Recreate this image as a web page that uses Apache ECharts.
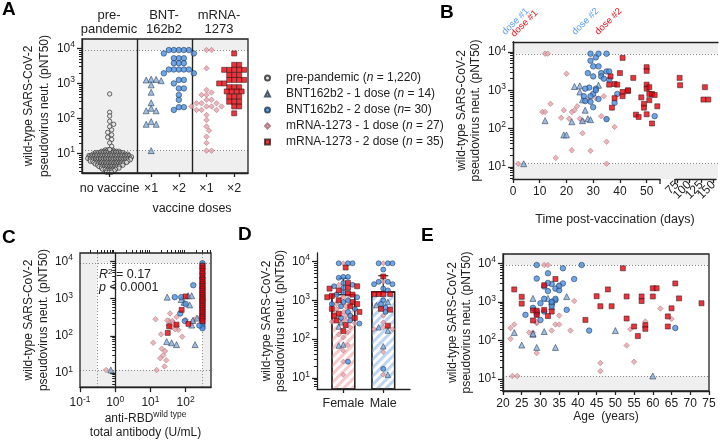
<!DOCTYPE html>
<html><head><meta charset="utf-8">
<script src="https://cdn.jsdelivr.net/npm/echarts@6/dist/echarts.min.js"></script>
<style>html,body{margin:0;padding:0;background:#fff}#c{width:720px;height:441px}</style>
</head><body><div id="c"></div>
<script>
// ================= DATA =================
const LOD = 12, ULOD = 9000;              // assay limits (pNT50)
const yTickExps = [1, 2, 3, 4];           // 10^1 .. 10^4

// ---- Panel A ----
const aHeaders = ['pre-\npandemic', 'BNT-\n162b2', 'mRNA-\n1273'];
const aCategories = ['no vaccine', '×1', '×2', '×1', '×2'];
const aXTitle = 'vaccine doses';
// pre-pandemic swarm body: [pNT50, points in swarm row]
const preRows = [[12.6,4],[11.5,8],[10.5,12],[9.5,15],[8.7,17],[7.9,18],[7.2,18],[6.6,17],[6.0,16],[5.5,14],[5.0,12],[4.6,11],[4.2,9],[3.8,8],[3.5,6],[3.2,4],[2.9,3]];
const preOutliers = [500,150,117,83,68,58,47,40,34,29,25,20,16,13];
const aBnt1 = [1200,1250,1300,1320,910,560,280,195,165,165,81,68,68,12];
const aBnt2 = [9000,9000,9000,9000,9000,7200,7200,5250,5250,5250,3800,3800,3800,2500,2500,2500,2500,2500,1950,1950,1260,1260,1000,720,720,470,340,210,210,175];
const aMrna1 = [9000,9000,2700,650,550,470,470,340,340,270,270,270,220,220,220,220,175,175,175,125,90,59,45,30,20,12,12];
const aMrna2 = [7200,3400,3400,2450,2450,2450,2450,2450,1740,1740,1740,1260,1260,1260,1260,1000,1000,1000,1000,780,780,780,590,590,590,590,420,420,420,300,300,300,220,220,140];

// ---- Panel B: [days post-vaccination, pNT50] ----
const bTicksMain = [0,10,20,30,40,50];
const bTicksLate = [75,100,125,150];
const bXTitle = 'Time post-vaccination (days)';
const bBnt1 = [[4,12],[12,160],[19,68],[20,68],[22,150],[23,1250],[25,1300],[25,900],[26,560],[27,300],[28,180],[32,1350],[26,160],[29,170]];
const bBnt2 = [[29,9000],[31,7200],[32,9000],[35,9000],[29,5900],[30,4200],[32,4200],[28,2800],[30,2300],[33,2800],[33,2300],[35,3100],[36,3100],[36,1900],[28.5,1170],[31,1100],[30,800],[26.5,700],[29,700],[32,590],[39,800],[38,470],[27,520],[30,360],[53,210],[35,175],[31,1000],[27,1100],[29,500],[34,2000]];
const bMrna1 = [[2,12],[12,9000],[13,9000],[20,2700],[14,440],[11,270],[12,270],[19,300],[22,270],[23,300],[24,380],[18,190],[21,180],[25,180],[26,160],[28,560],[31,620],[34,700],[33,210],[35,180],[38,110],[26,75],[22,27],[16,17],[29,26],[35,45],[35,12]];
const bMrna2 = [[41,7000],[50,4000],[50,3200],[40,2800],[45,2100],[80,2100],[81,1350],[36.5,2300],[36,1400],[38,1450],[39,1400],[50,1400],[50,1100],[41,900],[43,950],[41,700],[51,800],[52,800],[48,650],[51,550],[38,620],[49,440],[49,350],[54,380],[37,350],[46,230],[47,200],[50,235],[52,135],[132,1200],[129,570],[139,570],[51,1200],[53,750],[43,1000]];
const bDoseMarks = [['dose #1','#5d9ff0'],['dose #1','#e8141e'],['dose #2','#5d9ff0'],['dose #2','#e8141e']];

// ---- Panel C: [anti-RBD U/mL, pNT50] ----
const cLimits = [0.3, 300];
const cTickExps = [-1, 0, 1, 2];
const cStats = ['0.17', '< 0.0001'];
const cBnt1 = [[0.75,12],[30,1100],[55,58],[185,58],[90,800],[118,1200],[148,1200],[148,195],[29,70],[130,680],[75,950],[160,260],[210,300],[40,65]];
const cBnt2 = [[300,9000],[300,8000],[300,6500],[300,4800],[300,3600],[300,2600],[300,2000],[300,1700],[300,1400],[300,1200],[300,1000],[300,900],[300,800],[300,700],[300,600],[300,500],[300,420],[300,350],[300,290],[300,240],[300,210],[300,180],[300,160],[49,1100],[75,1100],[165,2300],[100,720],[70,400],[95,250],[245,190]];
const cMrna1 = [[0.55,12],[15,12],[14,280],[12,65],[26,39],[19,25],[28,22],[25,15],[36,400],[34,250],[42,250],[55,320],[34,190],[40,170],[55,180],[80,95],[62,145],[175,275],[150,220],[21,45],[23,30],[45,220],[30,260],[50,150],[100,270],[250,300],[20,110]];
const cMrna2 = [[300,7600],[300,6600],[300,5600],[300,4800],[300,4000],[300,3500],[300,3200],[300,2800],[300,2500],[300,2200],[300,2000],[300,1800],[300,1600],[300,1400],[300,1250],[300,1100],[300,1000],[300,900],[300,800],[300,700],[300,630],[300,560],[300,500],[300,450],[300,400],[300,350],[300,320],[300,290],[300,250],[34,180],[55,200],[31,120],[77,500],[100,1150],[120,210]];

// ---- Panel D ----
const dCategories = ['Female', 'Male'];
const dMeans = [1450, 1700];
const dUpper = [3700, 4300];
const dFemBnt1 = [270,210,72,68];
const dFemBnt2 = [9000,9000,9000,4000,4000,3800,2800,2500,2300,2100,1600,1400,1200,1000,900,800,700,600,500,400,350,300,250,26];
const dFemMrna1 = [9000,2500,1200,800,700,600,500,400,300,280,250,200,150,130,110,70,50,26,12];
const dFemMrna2 = [7000,2800,2300,2100,2000,1800,1500,1400,1300,1200,1000,900,800,700,600,500,450,400,350,300,230,160];
const dMaleBnt1 = [900,750,200,165,65,12];
const dMaleBnt2 = [9000,9000,9000,6200,3000,3000,2600,2600,2000,1800,1000,800,650,500,17];
const dMaleMrna1 = [9000,3000,400,270,200,180,180,46,12];
const dMaleMrna2 = [4100,1450,1450,1450,1450,600,570,220];

// ---- Panel E: [age, pNT50] ----
const eXTitle = 'Age  (years)';
const eBnt1 = [[23,160],[25,76],[28,1230],[28,145],[29,66],[31,170],[32,1230],[33,760],[34,66],[37,1370],[50,180],[60,12],[28,150],[33,1000]];
const eBnt2 = [[29,9000],[41,9000],[36,7400],[32,5500],[29,4000],[39,3900],[31,2500],[33,2900],[34,2200],[35,2000],[32,1900],[36,3000],[34,1100],[33,950],[30,920],[37,620],[26,460],[29,480],[30,340],[33,780],[43,180],[66,210],[28,700],[34,1200],[33,1000],[31,1200],[35,2600],[31,560],[29,550],[32,3100]];
const eMrna1 = [[22,210],[23,260],[22,110],[22.5,12],[23.8,12],[27,160],[28,160],[29,47],[29,280],[31,9000],[32,9000],[33,180],[34,260],[35,260],[35,440],[35,2700],[38,180],[39,1050],[46,26],[46,16],[53,74],[54,195],[55,28],[58,310],[62,670],[65,360],[29,300]];
const eMrna2 = [[23,2100],[25,1350],[25,900],[28,600],[28,330],[29,590],[29,460],[31,2700],[31,620],[32,430],[33,560],[34,3900],[42,340],[45,1400],[46,770],[48,2100],[49,770],[52,7400],[53,1380],[53,370],[55,230],[56,130],[57,1380],[57,1050],[58,250],[58,200],[60,2250],[61,2250],[60,1380],[64,420],[64,230],[65,680],[66,3000],[67,1230],[73,920]];

const yTitle = 'wild-type SARS-CoV-2\npseudovirus neut. (pNT50)';
const legendLabels = {
  'pre-pandemic': 'pre-pandemic ({i|n} = 1,220)',
  'BNT162b2 - 1 dose': 'BNT162b2 - 1 dose ({i|n} = 14)',
  'BNT162b2 - 2 dose': 'BNT162b2 - 2 dose ({i|n}= 30)',
  'mRNA-1273 - 1 dose': 'mRNA-1273 - 1 dose ({i|n} = 27)',
  'mRNA-1273 - 2 dose': 'mRNA-1273 - 2 dose ({i|n} = 35)'
};

// ================= BUILD =================
const FONT = '"Liberation Sans", Arial, Helvetica, sans-serif';
const INK = '#222';
const L = v => Math.log10(v);
const NAMES = {pre:'pre-pandemic', bnt1:'BNT162b2 - 1 dose', bnt2:'BNT162b2 - 2 dose', mrna1:'mRNA-1273 - 1 dose', mrna2:'mRNA-1273 - 2 dose'};
const ST = {
  pre:  {symbol:'circle',   size:4.4, itemStyle:{color:'#e4e4e4', borderColor:'#262626', borderWidth:0.85}},
  bnt1: {symbol:'triangle', size:6,   itemStyle:{color:'#86aee0', borderColor:'#27384f', borderWidth:0.7}},
  bnt2: {symbol:'circle',   size:5.5, itemStyle:{color:'#4a90e2', borderColor:'#1d3451', borderWidth:0.7}},
  mrna1:{symbol:'diamond',  size:5.5, itemStyle:{color:'#e9a3aa', borderColor:'#9b6a70', borderWidth:0.6}},
  mrna2:{symbol:'rect',     size:5,   itemStyle:{color:'#e8000b', borderColor:'#3b1b1b', borderWidth:0.7}}
};
function sc(key, xi, yi, data, size) {
  return {type:'scatter', name:NAMES[key], xAxisIndex:xi, yAxisIndex:yi, symbol:ST[key].symbol,
    symbolSize:size || ST[key].size, itemStyle:ST[key].itemStyle, data, z:5, silent:true};
}
const xy = arr => arr.map(p => [p[0], L(p[1])]);
const xyLog = arr => arr.map(p => [L(p[0]), L(p[1])]);

function swarm(vals, cx, pxX, pxY, diam) {
  const idx = vals.map((v,i)=>i).sort((a,b)=>vals[b]-vals[a]);
  const placed = [], out = new Array(vals.length), step = diam/2;
  for (const i of idx) {
    const y = L(vals[i]) * pxY;
    let off = 0;
    for (let s = 0; s < 400; s++) {
      const o = s === 0 ? 0 : (s % 2 ? 1 : -1) * Math.ceil(s/2) * step;
      let ok = true;
      for (const p of placed) { const dx = p[0]-o, dy = p[1]-y; if (dx*dx+dy*dy < diam*diam*0.85) { ok = false; break; } }
      if (ok) { off = o; break; }
    }
    placed.push([off, y]);
    out[i] = [cx + off/pxX, L(vals[i])];
  }
  return out;
}
function swarmGroups(groups, cx, pxX, pxY, diam) {
  const all = [];
  Object.keys(groups).forEach(k => groups[k].forEach(v => all.push({k, v})));
  const pos = swarm(all.map(a=>a.v), cx, pxX, pxY, diam);
  const res = {};
  all.forEach((a,i) => { (res[a.k] = res[a.k] || []).push(pos[i]); });
  return res;
}
function minorTicks(min, max) {
  const t = [];
  for (let d = -2; d < 6; d++) for (let k = 2; k < 10; k++) { const v = d + Math.log10(k); if (v > min + 1e-6 && v < max - 1e-6) t.push(v); }
  return t;
}
const lineSt = {color: INK, width: 1.3};
const supRich = {s: {fontSize: 8.5, verticalAlign: 'bottom', padding: [0,0,7,0], fontFamily: FONT, color: INK}};
function logY(gi, min, max, nameGap, lh, opts) {
  return [
    Object.assign({type:'value', gridIndex:gi, min, max, position:'left', z:10,
      axisLine:{show:true, lineStyle:lineSt},
      axisTick:{show:true, customValues:yTickExps, length:5, lineStyle:lineSt},
      axisLabel:{customValues:yTickExps, formatter:v=>'10{s|'+Math.round(v)+'}', color:INK, fontSize:12, fontFamily:FONT, margin:7, rich:supRich},
      splitLine:{show:false},
      name:yTitle, nameLocation:'middle', nameRotate:90, nameGap,
      nameTextStyle:{fontSize:12, lineHeight:lh, color:INK, fontFamily:FONT}}, opts || {}),
    {type:'value', gridIndex:gi, min, max, position:'left', z:10,
      axisLine:{show:false}, axisTick:{show:true, customValues:minorTicks(min,max), length:3, lineStyle:{color:INK, width:1}},
      axisLabel:{show:false}, splitLine:{show:false}}
  ];
}
function bg(xi, yi, areas, dotted, solid) {
  const s = {type:'scatter', xAxisIndex:xi, yAxisIndex:yi, data:[], silent:true, z:1,
    markArea:{silent:true, itemStyle:{color:'#efefef'}, data:areas}};
  const lines = [];
  dotted.forEach(d => lines.push(Object.assign({lineStyle:{type:[1,2], color:'#888', width:1}}, d)));
  (solid||[]).forEach(d => lines.push(Object.assign({lineStyle:{type:'solid', color:INK, width:1.4}}, d)));
  s.markLine = {silent:true, symbol:['none','none'], label:{show:false}, animation:false, data:lines};
  return s;
}

const A = {y:[0.44,4.27], pxX:55.3, pxY:35};
const B = {y:[0.68,4.26]};
const C = {x:[-1,2.72], y:[0.62,4.23]};
const D = {x:[0.34,2.67], y:[0.71,4.22], pxX:39.9, pxY:38.7};
const E = {y:[0.69,4.24]};
const lod = L(LOD), ulod = L(ULOD);

// ---- A layout ----
const aCenters = [0.5, 1.25, 1.75, 2.25, 2.75];
const preData = [];
preRows.forEach((r, ri) => {
  const n = r[1];
  for (let j = 0; j < n; j++) preData.push([aCenters[0] + ((j-(n-1)/2)*2.5 + (ri%2?0.6:-0.6))/A.pxX, L(r[0])]);
});
swarm(preOutliers, aCenters[0], A.pxX, A.pxY, 4).forEach(p => preData.push(p));

// ---- D layout ----
const dFem = swarmGroups({mrna1:dFemMrna1, bnt1:dFemBnt1, bnt2:dFemBnt2, mrna2:dFemMrna2}, 1, D.pxX, D.pxY, 4.6);
const dMale = swarmGroups({mrna1:dMaleMrna1, bnt1:dMaleBnt1, bnt2:dMaleBnt2, mrna2:dMaleMrna2}, 2, D.pxX, D.pxY, 4.6);

const gridBox = {show:true, borderColor:INK, borderWidth:1.3, backgroundColor:'transparent', z:10};
const hidden = {axisLine:{show:false}, axisTick:{show:false}, axisLabel:{show:false}, splitLine:{show:false}};
// late-time labels split over two axes so the rotated labels are not hidden as overlapping
const lateLabelAxis = (vals, showLine) => ({type:'value', gridIndex:2, min:70.5, max:155, z:10, position:'bottom', offset:0,
  axisLine:{show:showLine, lineStyle:lineSt},
  axisTick:{show:showLine, customValues:bTicksLate, length:4, lineStyle:lineSt},
  axisLabel:{customValues:vals, color:INK, fontSize:12, margin:4, rotate:45, showMinLabel:true, showMaxLabel:true}, splitLine:{show:false}});

const option = {
  animation:false, backgroundColor:'#fff', textStyle:{fontFamily:FONT},
  grid:[
    Object.assign({left:82, top:39, width:166, height:134}, gridBox),   // 0 A
    {left:513, top:42, width:147, height:137},                          // 1 B main
    {left:675, top:42, width:43, height:137},                           // 2 B late
    {left:513, top:42, width:205, height:137},                          // 3 B frame
    Object.assign({left:80, top:253, width:131, height:137}, gridBox),  // 4 C
    {left:317, top:253, width:93, height:136},                          // 5 D
    Object.assign({left:503, top:254, width:206, height:137}, gridBox)  // 6 E
  ],
  xAxis:[
    {type:'value', gridIndex:0, min:0, max:3, z:10, axisLine:{show:true, lineStyle:lineSt},
     axisTick:{customValues:aCenters, length:4, lineStyle:lineSt},
     axisLabel:{customValues:aCenters, formatter:v=>aCategories[aCenters.indexOf(v)], color:INK, fontSize:12.5, margin:9}, splitLine:{show:false}},
    {type:'value', gridIndex:1, min:0, max:55, z:10, axisLine:{show:true, lineStyle:lineSt},
     axisTick:{customValues:bTicksMain, length:4, lineStyle:lineSt},
     axisLabel:{customValues:bTicksMain, color:INK, fontSize:12, margin:7, showMinLabel:true}, splitLine:{show:false}},
    lateLabelAxis([bTicksLate[0], bTicksLate[2]], true),
    Object.assign({type:'value', gridIndex:3, min:0, max:1, position:'top', z:10}, hidden, {axisLine:{show:true, lineStyle:lineSt}}),
    {type:'value', gridIndex:4, min:C.x[0], max:C.x[1], z:10, axisLine:{show:true, lineStyle:lineSt},
     axisTick:{customValues:cTickExps, length:5, lineStyle:lineSt},
     axisLabel:{customValues:cTickExps, formatter:v=>'10{s|'+Math.round(v)+'}', color:INK, fontSize:12, margin:8, rich:supRich, showMinLabel:true},
     splitLine:{show:false},
     name:'anti-RBD{s|wild type}\ntotal antibody (U/mL)', nameLocation:'middle', nameGap:20,
     nameTextStyle:{fontSize:12, lineHeight:14, color:INK, rich:{s:{fontSize:8.5, verticalAlign:'bottom', padding:[0,0,7,0], color:INK}}}},
    {type:'value', gridIndex:4, min:C.x[0], max:C.x[1], z:10, axisLine:{show:false},
     axisTick:{customValues:minorTicks(C.x[0], C.x[1]), length:3, lineStyle:{color:INK, width:1}}, axisLabel:{show:false}, splitLine:{show:false}},
    {type:'value', gridIndex:5, min:D.x[0], max:D.x[1], z:10, axisLine:{show:true, lineStyle:lineSt},
     axisTick:{customValues:[1,2], length:4, lineStyle:lineSt},
     axisLabel:{customValues:[1,2], formatter:v=>dCategories[Math.round(v)-1], color:INK, fontSize:12.5, margin:8}, splitLine:{show:false}},
    {type:'value', gridIndex:6, min:20, max:75, interval:5, z:10, axisLine:{show:true, lineStyle:lineSt},
     axisTick:{length:4, lineStyle:lineSt}, axisLabel:{color:INK, fontSize:12, margin:7}, splitLine:{show:false},
     name:eXTitle, nameLocation:'middle', nameGap:20, nameTextStyle:{fontSize:12, color:INK}},
    lateLabelAxis([bTicksLate[1], bTicksLate[3]], false)
  ],
  yAxis:[].concat(
    logY(0, A.y[0], A.y[1], 27, 16),
    logY(1, B.y[0], B.y[1], 30, 14),
    [Object.assign({type:'value', gridIndex:2, min:B.y[0], max:B.y[1]}, hidden),
     Object.assign({type:'value', gridIndex:3, min:B.y[0], max:B.y[1], position:'right', z:10}, hidden, {axisLine:{show:true, lineStyle:lineSt}})],
    logY(4, C.y[0], C.y[1], 25, 15),
    logY(5, D.y[0], D.y[1], 23, 14),
    logY(6, E.y[0], E.y[1], 28, 14)
  ),
  legend:{
    data:[NAMES.pre, NAMES.bnt1, NAMES.bnt2, NAMES.mrna1, NAMES.mrna2],
    orient:'vertical', left:259, top:66, itemWidth:5, itemHeight:5, itemGap:2, selectedMode:false,
    formatter:name=>legendLabels[name],
    textStyle:{fontSize:12, color:INK, lineHeight:14, padding:[0,0,0,11], fontFamily:FONT,
      rich:{i:{fontStyle:'italic', fontSize:12, lineHeight:14, fontFamily:FONT, color:INK}}}
  },
  series:[
    // ---- A ----
    bg(0, 0, [
        [{xAxis:0, yAxis:A.y[0]}, {xAxis:1, yAxis:A.y[1]}],
        [{xAxis:1, yAxis:A.y[0]}, {xAxis:3, yAxis:lod}],
        [{xAxis:1, yAxis:ulod}, {xAxis:3, yAxis:A.y[1]}]],
      [{yAxis:lod}, {yAxis:ulod}], [{xAxis:1}, {xAxis:2}]),
    sc('pre', 0, 0, preData),
    sc('bnt1', 0, 0, swarm(aBnt1, aCenters[1], A.pxX, A.pxY, 5)),
    sc('bnt2', 0, 0, swarm(aBnt2, aCenters[2], A.pxX, A.pxY, 5)),
    sc('mrna1', 0, 0, swarm(aMrna1, aCenters[3], A.pxX, A.pxY, 5)),
    sc('mrna2', 0, 0, swarm(aMrna2, aCenters[4], A.pxX, A.pxY, 5)),
    // ---- B ----
    bg(3, 5, [
        [{xAxis:0, yAxis:B.y[0]}, {xAxis:1, yAxis:lod}],
        [{xAxis:0, yAxis:ulod}, {xAxis:1, yAxis:B.y[1]}]],
      [{yAxis:lod}, {yAxis:ulod}]),
    sc('mrna1', 1, 2, xy(bMrna1.filter(p=>p[0]<=55))),
    sc('bnt1', 1, 2, xy(bBnt1.filter(p=>p[0]<=55))),
    sc('bnt2', 1, 2, xy(bBnt2.filter(p=>p[0]<=55))),
    sc('mrna2', 1, 2, xy(bMrna2.filter(p=>p[0]<=55))),
    sc('mrna2', 2, 4, xy(bMrna2.filter(p=>p[0]>55))),
    // ---- C ----
    bg(4, 6, [
        [{xAxis:C.x[0], yAxis:C.y[0]}, {xAxis:L(cLimits[0]), yAxis:C.y[1]}],
        [{xAxis:L(cLimits[1]), yAxis:C.y[0]}, {xAxis:C.x[1], yAxis:C.y[1]}],
        [{xAxis:L(cLimits[0]), yAxis:C.y[0]}, {xAxis:L(cLimits[1]), yAxis:lod}],
        [{xAxis:L(cLimits[0]), yAxis:ulod}, {xAxis:L(cLimits[1]), yAxis:C.y[1]}]],
      [{yAxis:lod}, {yAxis:ulod}, {xAxis:L(cLimits[0])}, {xAxis:L(cLimits[1])}]),
    sc('mrna1', 4, 6, xyLog(cMrna1)),
    sc('bnt1', 4, 6, xyLog(cBnt1)),
    sc('bnt2', 4, 6, xyLog(cBnt2)),
    sc('mrna2', 4, 6, xyLog(cMrna2)),
    // ---- D ----
    {type:'bar', xAxisIndex:6, yAxisIndex:8, barWidth:24, z:2, silent:true, clip:true,
     data:dMeans.map((m,i)=>({value:[i+1, L(m)], itemStyle:{color:'#ffffff', borderColor:INK, borderWidth:1.3,
       decal:{symbol:'rect', symbolSize:1, color:i===0?'#f7c9c9':'#bcd6f2', dashArrayX:[1,0], dashArrayY:[2.5,3], rotation:-Math.PI/4}}}))},
    {type:'custom', xAxisIndex:6, yAxisIndex:8, z:3, silent:true,
     data:dMeans.map((m,i)=>[i+1, L(m), L(dUpper[i])]),
     renderItem:(p, api) => {
       const a = api.coord([api.value(0), api.value(1)]), b = api.coord([api.value(0), api.value(2)]);
       return {type:'group', children:[
         {type:'line', shape:{x1:a[0], y1:a[1], x2:b[0], y2:b[1]}, style:{stroke:INK, lineWidth:1.2}},
         {type:'line', shape:{x1:b[0]-5, y1:b[1], x2:b[0]+5, y2:b[1]}, style:{stroke:INK, lineWidth:1.2}}]};
     }},
    sc('mrna1', 6, 8, dFem.mrna1.concat(dMale.mrna1), 5),
    sc('bnt1', 6, 8, dFem.bnt1.concat(dMale.bnt1), 5.5),
    sc('bnt2', 6, 8, dFem.bnt2.concat(dMale.bnt2), 5),
    sc('mrna2', 6, 8, dFem.mrna2.concat(dMale.mrna2), 5),
    // ---- E ----
    bg(7, 10, [
        [{xAxis:20, yAxis:E.y[0]}, {xAxis:75, yAxis:lod}],
        [{xAxis:20, yAxis:ulod}, {xAxis:75, yAxis:E.y[1]}]],
      [{yAxis:lod}, {yAxis:ulod}]),
    sc('mrna1', 7, 10, xy(eMrna1)),
    sc('bnt1', 7, 10, xy(eBnt1)),
    sc('bnt2', 7, 10, xy(eBnt2)),
    sc('mrna2', 7, 10, xy(eMrna2))
  ],
  graphic:{elements:[].concat(
    [['A',2,0],['B',440,3],['C',2,228],['D',238,225],['E',421,226]].map(t=>({type:'text', x:t[1], y:t[2],
      style:{text:t[0], font:'bold 19px '+FONT, fill:'#000', verticalAlign:'top'}})),
    aHeaders.map((h,i)=>({type:'text', x:[109,164,219][i], y:22,
      style:{text:h, font:'13px '+FONT, fill:INK, align:'center', verticalAlign:'middle', lineHeight:14}})),
    [{type:'text', x:192, y:209, style:{text:aXTitle, font:'12.5px '+FONT, fill:INK, align:'center', verticalAlign:'middle'}},
     {type:'text', x:615, y:220, style:{text:bXTitle, font:'12.5px '+FONT, fill:INK, align:'center', verticalAlign:'middle'}},
     {type:'text', x:99, y:275, style:{text:'{i|R}{s|2} = '+cStats[0], font:'12.5px '+FONT, fill:INK, verticalAlign:'middle',
        rich:{i:{fontStyle:'italic', fontSize:12.5, fontFamily:FONT}, s:{fontSize:8, verticalAlign:'bottom', padding:[0,0,7,0], fontFamily:FONT}}}},
     {type:'text', x:99, y:288, style:{text:'{i|p} '+cStats[1], font:'12.5px '+FONT, fill:INK, verticalAlign:'middle',
        rich:{i:{fontStyle:'italic', fontSize:12.5, fontFamily:FONT}}}},
     {type:'line', shape:{x1:660, y1:175, x2:660, y2:184}, style:{stroke:INK, lineWidth:1.3}},
     {type:'line', shape:{x1:675, y1:175, x2:675, y2:184}, style:{stroke:INK, lineWidth:1.3}}],
    bDoseMarks.map((d,i)=>({type:'text', x:[507,516,577,600][i], y:[37,39,37,37][i], rotation:Math.PI/4,
      style:{text:d[0], font:'9.5px '+FONT, fill:d[1], align:'left', verticalAlign:'bottom'}}))
  )}
};
const chart = echarts.init(document.getElementById('c'), null, {renderer:'canvas'});
chart.setOption(option);
</script></body></html>
